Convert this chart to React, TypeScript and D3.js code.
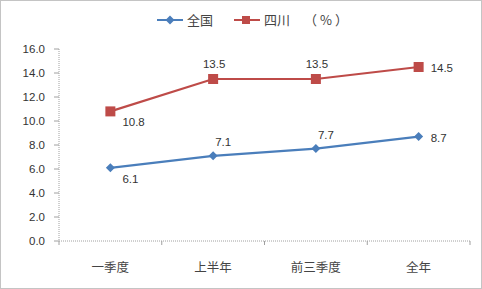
import React from "react";
import * as d3 from "d3";

const categories = ["一季度", "上半年", "前三季度", "全年"];
const nationalValues = [6.1, 7.1, 7.7, 8.7];
const sichuanValues = [10.8, 13.5, 13.5, 14.5];
const yTicks = [0, 2, 4, 6, 8, 10, 12, 14, 16];
const seriesNames = ["全国", "四川"];
const unitLabel = "（%）";
const nationalLabelPos = ["belowRight", "aboveRight", "aboveRight", "right"];
const sichuanLabelPos = ["belowRight", "above", "above", "right"];

const W = 482, H = 289;
const left = 59, right = 470, top = 49, bottom = 241;
const BLUE = "#4a7ebb";
const RED = "#be4b48";

export default function App() {
  const x = d3.scaleBand<string>().domain(categories).range([left, right]).padding(0);
  const y = d3.scaleLinear().domain([0, 16]).range([bottom, top]);
  const cx = (c: string) => (x(c) as number) + x.bandwidth() / 2;
  const line = d3.line<number>().x((_, i) => cx(categories[i])).y((d) => y(d));

  const labelAt = (v: number, i: number, pos: string) => {
    const px = cx(categories[i]);
    const py = y(v);
    if (pos === "above") return { x: px + 1, y: py - 11, anchor: "middle" };
    if (pos === "aboveRight") return { x: px + 2, y: py - 10, anchor: "start" };
    if (pos === "right") return { x: px + 12, y: py + 5, anchor: "start" };
    return { x: px + 12, y: py + 15, anchor: "start" };
  };

  const diamond = (px: number, py: number) =>
    `M${px},${py - 4.5}L${px + 4.5},${py}L${px},${py + 4.5}L${px - 4.5},${py}Z`;

  const axisColor = "#a0a0a0";
  const font = "'Liberation Sans', Arial, sans-serif";
  const cjk = "'Noto Sans CJK SC', sans-serif";

  return (
    <svg width={W} height={H} style={{ position: "absolute", left: 0, top: 0 }}>
      <rect x={0.5} y={0.5} width={W - 1} height={H - 1} fill="white" stroke="#888" strokeDasharray="1,1" />
      <g>
        <line x1={157} x2={183} y1={20} y2={20} stroke={BLUE} strokeWidth={2} />
        <path d={diamond(170, 20)} fill={BLUE} />
        <text x={187} y={25} fontFamily={cjk} fontSize={13} fill="#444">{seriesNames[0]}</text>
        <line x1={234} x2={260} y1={20} y2={20} stroke={RED} strokeWidth={2} />
        <rect x={242} y={16} width={8} height={8} fill={RED} />
        <text x={264} y={25} fontFamily={cjk} fontSize={13} fill="#444">{seriesNames[1]}</text>
        <text x={304} y={25} fontFamily={cjk} fontSize={13} fill="#444" letterSpacing={3}>{unitLabel}</text>
      </g>
      <line x1={left} x2={left} y1={top} y2={bottom} stroke={axisColor} strokeDasharray="1,1" />
      {yTicks.map((t) => (
        <g key={t}>
          <line x1={left - 5} x2={left} y1={y(t)} y2={y(t)} stroke={axisColor} />
          <text x={45} y={y(t) + 4} textAnchor="end" fontFamily={font} fontSize={11.5} fill="#333">
            {t.toFixed(1)}
          </text>
        </g>
      ))}
      <line x1={left} x2={right} y1={bottom} y2={bottom} stroke={axisColor} strokeDasharray="1,1" />
      {categories.map((c, i) => (
        <g key={c}>
          <line x1={(x(c) as number) + x.bandwidth()} x2={(x(c) as number) + x.bandwidth()} y1={bottom} y2={bottom + 4} stroke={axisColor} />
          {i === 0 && <line x1={left} x2={left} y1={bottom} y2={bottom + 4} stroke={axisColor} />}
          <text x={cx(c)} y={bottom + 31} textAnchor="middle" fontFamily={cjk} fontSize={12.5} fill="#444">
            {c}
          </text>
        </g>
      ))}
      <path d={line(nationalValues) || ""} fill="none" stroke={BLUE} strokeWidth={2.2} />
      <path d={line(sichuanValues) || ""} fill="none" stroke={RED} strokeWidth={2.2} />
      {nationalValues.map((v, i) => (
        <path key={"n" + i} d={diamond(cx(categories[i]), y(v))} fill={BLUE} />
      ))}
      {sichuanValues.map((v, i) => (
        <rect key={"s" + i} x={cx(categories[i]) - 5} y={y(v) - 5} width={10} height={10} fill={RED} />
      ))}
      {nationalValues.map((v, i) => {
        const l = labelAt(v, i, nationalLabelPos[i]);
        return (
          <text key={"nl" + i} x={l.x} y={l.y} textAnchor={l.anchor as any} fontFamily={font} fontSize={11.5} fill="#333">
            {v.toFixed(1)}
          </text>
        );
      })}
      {sichuanValues.map((v, i) => {
        const l = labelAt(v, i, sichuanLabelPos[i]);
        return (
          <text key={"sl" + i} x={l.x} y={l.y} textAnchor={l.anchor as any} fontFamily={font} fontSize={11.5} fill="#333">
            {v.toFixed(1)}
          </text>
        );
      })}
    </svg>
  );
}
